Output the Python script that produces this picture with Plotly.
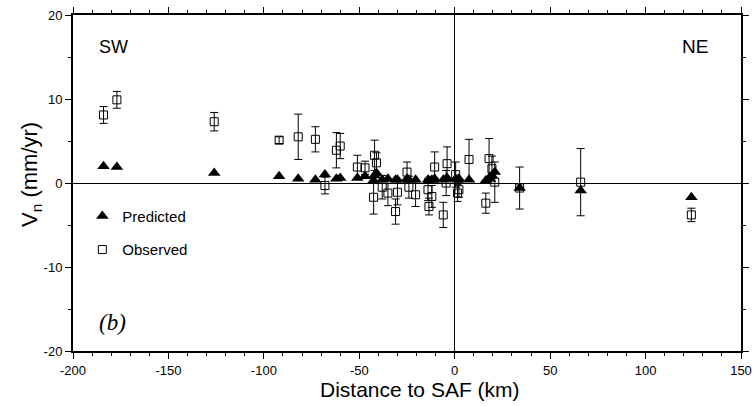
import plotly.graph_objects as go

# station distances to SAF (km)
dist = [-184, -177, -126, -92, -82, -73, -68, -62, -60, -51, -47, -42, -41, -42.5,
        -38, -35, -31, -30, -25, -24, -20.5, -14, -12, -13.5, -10.5, -6, -4, -4.5,
        1.5, 0.5, 2.2, 7.5, 16.3, 18, 19.5, 21, 34, 66, 124]
predicted = [2.0, 1.9, 1.2, 0.8, 0.5, 0.4, 1.0, 0.5, 0.6, 0.6, 0.8, 0.9, 1.2, 0.3,
             0.4, 0.5, 0.4, 0.4, 0.5, 0.4, 0.4, 0.4, 0.4, 0.3, 0.5, 0.4, 0.6, 0.5,
             0.4, 0.5, 0.5, 0.4, 0.3, 0.6, 0.9, 1.3, -0.6, -0.9, -1.7]
observed = [8.1, 9.9, 7.3, 5.1, 5.5, 5.2, -0.3, 3.9, 4.4, 1.9, 1.8, 3.3, 2.4, -1.7,
            -0.5, -1.2, -3.4, -1.1, 1.3, -0.5, -1.4, -0.8, -1.6, -2.8, 1.9, -3.8, 2.3, 0.0,
            -1.2, 1.0, -0.8, 2.8, -2.4, 2.9, 1.7, 0.1, -0.6, 0.1, -3.8]
obs_err = [1.0, 1.0, 1.1, 0.4, 2.7, 1.5, 1.0, 2.1, 1.5, 1.4, 0.8, 1.8, 1.2, 2.0,
           1.4, 1.5, 1.5, 1.5, 1.2, 1.3, 1.4, 1.3, 1.3, 1.0, 1.8, 1.5, 2.0, 1.5,
           1.0, 1.5, 0.9, 2.4, 1.2, 2.4, 1.5, 2.4, 2.5, 4.0, 0.8]

x_ticks = [-200, -150, -100, -50, 0, 50, 100, 150]
x_ticklabels = ["-200", "-150", "-100", "-50", "0", "50", "100", "150"]
y_ticks = [-20, -10, 0, 10, 20]
y_ticklabels = ["-20", "-10", "0", "10", "20"]

FONT = "Liberation Sans, Arial, sans-serif"

fig = go.Figure()
fig.add_trace(go.Scatter(
    x=dist, y=predicted, mode="markers", name="Predicted",
    legendgroup="p",
    marker=dict(symbol="triangle-up", size=11, color="black"),
))
fig.add_trace(go.Scatter(
    x=dist, y=observed, mode="markers", name="Observed",
    legendgroup="o",
    marker=dict(symbol="square-open", size=8, color="black", line=dict(width=1)),
    error_y=dict(type="data", array=obs_err, color="black", thickness=1, width=4),
))

axis_common = dict(
    showline=True, linecolor="black", linewidth=2, mirror="allticks",
    ticks="outside", ticklen=6, tickwidth=1, tickcolor="black",
    showgrid=False, zeroline=True, zerolinecolor="black", zerolinewidth=1,
    tickfont=dict(family=FONT, size=13, color="black"),
    automargin=False, ticklabeloverflow="allow",
)

fig.update_xaxes(
    range=[-200, 150], tickmode="array", tickvals=x_ticks, ticktext=x_ticklabels,
    minor=dict(dtick=10, tick0=0, ticklen=3, ticks="outside", tickcolor="black", showgrid=False),
    **axis_common,
)
fig.update_yaxes(
    range=[-20, 20], tickmode="array", tickvals=y_ticks, ticktext=y_ticklabels,
    minor=dict(dtick=5, tick0=0, ticklen=3, ticks="outside", tickcolor="black", showgrid=False),
    **axis_common,
)

# axis titles
fig.add_annotation(x=0.519, y=0, xref="paper", yref="paper", yshift=-38,
                   text="Distance to SAF (km)", showarrow=False,
                   xanchor="center", yanchor="middle",
                   font=dict(family=FONT, size=21, color="black"))
fig.add_annotation(x=0, y=0.524, xref="paper", yref="paper", xshift=-42,
                   text="V<sub>n</sub> (mm/yr)", showarrow=False, textangle=-90,
                   xanchor="center", yanchor="middle",
                   font=dict(family=FONT, size=22, color="black"))

fig.add_annotation(x=0.036, y=0.905, xref="paper", yref="paper", text="SW", showarrow=False,
                   xanchor="left", yanchor="middle", font=dict(family=FONT, size=18, color="black"))
fig.add_annotation(x=0.954, y=0.905, xref="paper", yref="paper", text="NE", showarrow=False,
                   xanchor="right", yanchor="middle", font=dict(family=FONT, size=19, color="black"))
fig.add_annotation(x=0.036, y=0.085, xref="paper", yref="paper", text="<i>(b)</i>", showarrow=False,
                   xanchor="left", yanchor="middle",
                   font=dict(family="Liberation Serif, Times New Roman, serif", size=23, color="black"))

fig.update_layout(
    width=755, height=406,
    margin=dict(l=73, r=14, t=15, b=55),
    paper_bgcolor="white", plot_bgcolor="white",
    showlegend=True,
    legend=dict(x=0.014, y=0.45, xanchor="left", yanchor="top",
                bgcolor="rgba(0,0,0,0)", tracegroupgap=11,
                font=dict(family=FONT, size=15, color="black")),
)

# remove the default 8px page margin so the figure sits at the window's corner
fig.write_html("out.html", config={"displayModeBar": False},
               post_script="document.body.style.margin='0';")
